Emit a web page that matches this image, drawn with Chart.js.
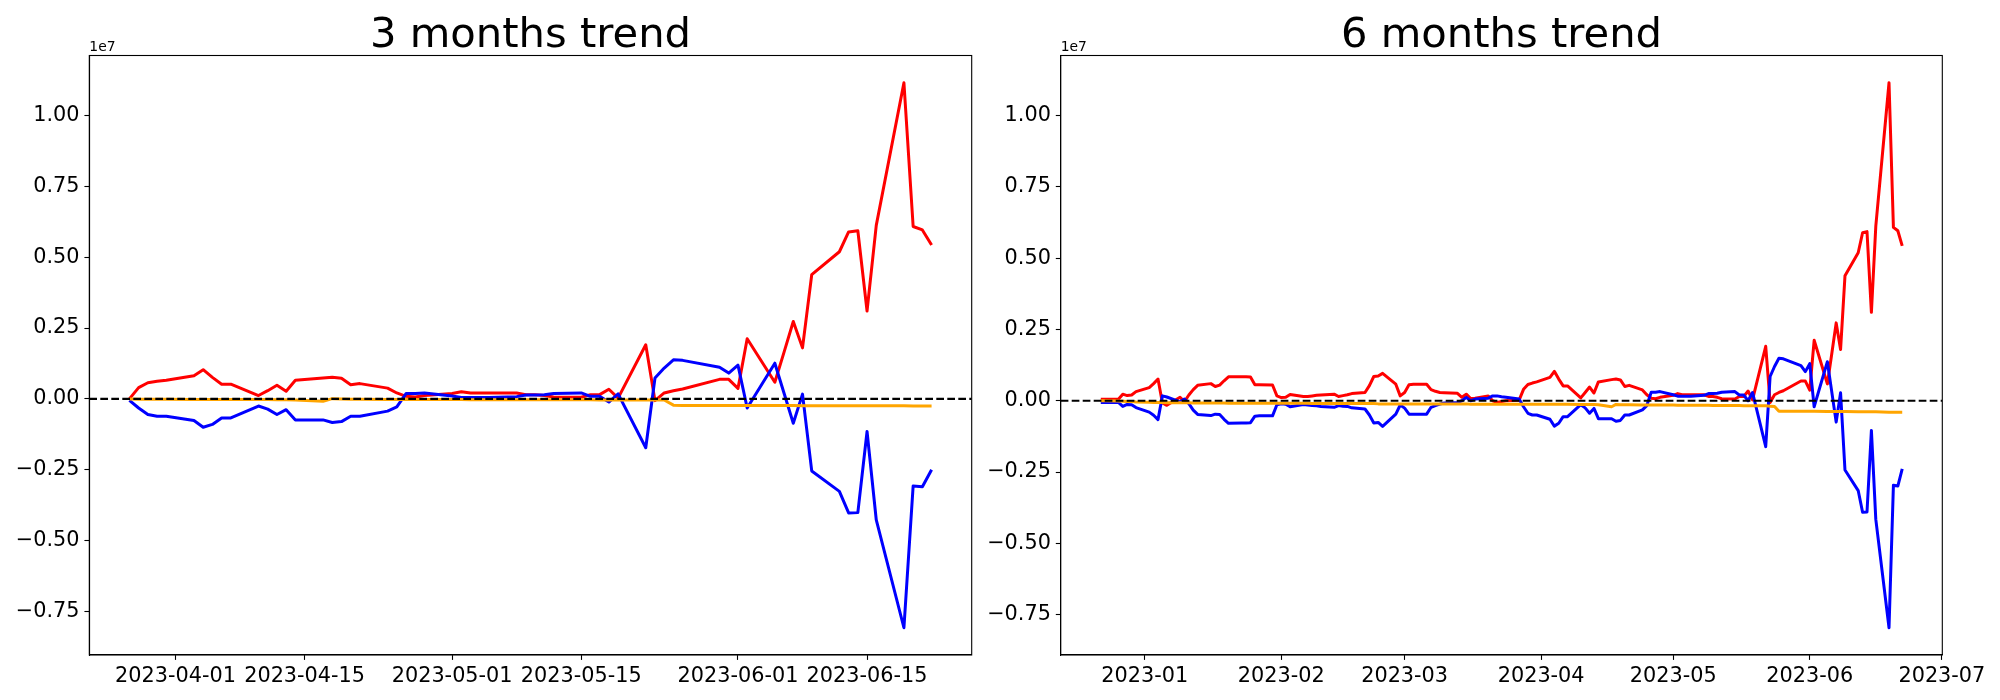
<!DOCTYPE html>
<html>
<head>
<meta charset="utf-8">
<script src="https://cdn.jsdelivr.net/npm/chart.js@4.4.0/dist/chart.umd.min.js"></script>
<style>
  html, body { margin: 0; padding: 0; background: #fff; }
  #wrap { position: relative; width: 2000px; height: 700px; }
  canvas { position: absolute; top: 0; }
</style>
</head>
<body>
<div id="wrap">
  <canvas id="chart3m" width="1000" height="700" style="left:0"></canvas>
  <canvas id="chart6m" width="1050" height="700" style="left:950px"></canvas>
</div>
<script>
// values below are in units of 100 000 (the axis shows them as x1e7)
const UNIT = 1e5;

// ---- 3 months ----
const leftDates = [
  '2023-03-27','2023-03-28','2023-03-29','2023-03-30','2023-03-31',
  '2023-04-03','2023-04-04','2023-04-05','2023-04-06','2023-04-07',
  '2023-04-10','2023-04-11','2023-04-12','2023-04-13','2023-04-14',
  '2023-04-17','2023-04-18','2023-04-19','2023-04-20','2023-04-21',
  '2023-04-24','2023-04-25','2023-04-26','2023-04-27','2023-04-28',
  '2023-05-01','2023-05-02','2023-05-03','2023-05-04','2023-05-05',
  '2023-05-08','2023-05-09','2023-05-10','2023-05-11','2023-05-12',
  '2023-05-15','2023-05-16','2023-05-17','2023-05-18','2023-05-19',
  '2023-05-22','2023-05-23','2023-05-24','2023-05-25','2023-05-26',
  '2023-05-30','2023-05-31','2023-06-01','2023-06-02',
  '2023-06-05','2023-06-06','2023-06-07','2023-06-08','2023-06-09',
  '2023-06-12','2023-06-13','2023-06-14','2023-06-15','2023-06-16',
  '2023-06-19','2023-06-20','2023-06-21','2023-06-22'
];
const leftRed = [
  0, 4.0, 5.7, 6.2, 6.6,
  8.2, 10.3, 7.6, 5.2, 5.2,
  1.2, 2.9, 4.8, 2.7, 6.6,
  7.4, 7.6, 7.3, 5.0, 5.4,
  3.8, 2.1, 0.9, 0.7, 1.2,
  1.9, 2.5, 2.1, 2.1, 2.1,
  2.1, 1.5, 1.5, 1.2, 0.7,
  0.6, 1.5, 1.5, 3.4, 0.3,
  19.1, -0.6, 2.1, 2.9, 3.5,
  6.9, 6.9, 3.7, 21.2,
  5.9, 16.5, 27.3, 18.0, 43.8,
  51.9, 58.9, 59.3, 31.0, 61.2,
  111.5, 60.8, 59.6, 54.3
];
const leftBlue = [
  -0.5, -3.2, -5.5, -6.1, -6.1,
  -7.6, -10.0, -9.0, -6.7, -6.7,
  -2.5, -3.6, -5.5, -3.8, -7.4,
  -7.4, -8.3, -8.0, -6.1, -6.1,
  -4.3, -2.8, 1.9, 1.9, 2.1,
  1.0, 0.5, 0.5, 0.5, 0.5,
  0.8, 1.4, 1.4, 1.5, 1.9,
  2.1, 0.9, 0.9, -1.1, 1.8,
  -17.2, 7.4, 10.9, 13.8, 13.6,
  11.2, 9.1, 11.9, -3.2,
  12.6, 2.0, -8.6, 1.7, -25.4,
  -32.6, -40.2, -40.1, -11.5, -42.7,
  -80.7, -30.7, -31.0, -25.0
];
const leftOrange = [
  0, -0.1, -0.1, -0.1, -0.1,
  -0.2, -0.2, -0.2, -0.2, -0.2,
  -0.2, -0.2, -0.3, -0.3, -0.35,
  -0.8, 0.1, 0.0, -0.1, -0.1,
  -0.2, -0.2, -0.2, -0.2, -0.2,
  -0.2, -0.2, -0.3, -0.3, -0.3,
  -0.3, -0.3, -0.3, -0.3, -0.3,
  -0.3, -0.3, -0.4, -0.4, -0.4,
  -0.4, -0.4, -0.4, -2.2, -2.3,
  -2.3, -2.3, -2.3, -2.3,
  -2.3, -2.3, -2.3, -2.4, -2.4,
  -2.4, -2.4, -2.4, -2.4, -2.4,
  -2.4, -2.5, -2.5, -2.5
];
const leftTicks = ['2023-04-01','2023-04-15','2023-05-01','2023-05-15','2023-06-01','2023-06-15'];
const leftTickLabels = ['2023-04-01','2023-04-15','2023-05-01','2023-05-15','2023-06-01','2023-06-15'];

// ---- 6 months ----
const rightDates = [
  '2022-12-22','2022-12-23','2022-12-26','2022-12-27','2022-12-28','2022-12-29','2022-12-30',
  '2023-01-02','2023-01-03','2023-01-04','2023-01-05','2023-01-06',
  '2023-01-09','2023-01-10','2023-01-11','2023-01-12','2023-01-13',
  '2023-01-16','2023-01-17','2023-01-18','2023-01-19','2023-01-20',
  '2023-01-23','2023-01-24','2023-01-25','2023-01-26','2023-01-27',
  '2023-01-30','2023-01-31','2023-02-01','2023-02-02','2023-02-03',
  '2023-02-06','2023-02-07','2023-02-08','2023-02-09','2023-02-10',
  '2023-02-13','2023-02-14','2023-02-15','2023-02-16','2023-02-17',
  '2023-02-20','2023-02-21','2023-02-22','2023-02-23','2023-02-24',
  '2023-02-27','2023-02-28','2023-03-01','2023-03-02','2023-03-03',
  '2023-03-06','2023-03-07','2023-03-08','2023-03-09','2023-03-10',
  '2023-03-13','2023-03-14','2023-03-15','2023-03-16','2023-03-17',
  '2023-03-20','2023-03-21','2023-03-22','2023-03-23','2023-03-24'
].concat(leftDates);
const rightRed = [
  0.5, 0.5, 0.5, 2.3, 1.8, 2.0, 3.2,
  4.6, 6.0, 7.6, -0.8, -1.6,
  1.2, -0.3, 2.0, 3.9, 5.4,
  6.0, 5.0, 5.5, 7.0, 8.4,
  8.4, 8.4, 8.3, 5.6, 5.6,
  5.5, 1.7, 1.1, 1.2, 2.2,
  1.5, 1.5, 1.7, 1.9, 2.0,
  2.3, 1.5, 1.8, 2.1, 2.5,
  2.9, 5.3, 8.5, 8.7, 9.6,
  5.8, 1.7, 2.9, 5.6, 5.8,
  5.8, 3.9, 3.3, 2.9, 2.8,
  2.6, 1.2, 2.3, 0.8, 0.9,
  1.7, 0.0, -0.6, -0.3, 0.0,
  0.2, 4.0, 5.7, 6.2, 6.6,
  8.2, 10.3, 7.6, 5.2, 5.2,
  1.0, 2.9, 4.8, 2.7, 6.6,
  7.4, 7.6, 7.3, 5.0, 5.4,
  3.8, 2.1, 0.9, 0.7, 1.2,
  1.9, 2.5, 2.1, 2.1, 2.1,
  2.1, 1.5, 1.5, 1.2, 0.7,
  0.6, 1.5, 1.5, 3.4, 0.3,
  19.1, -0.6, 2.1, 2.9, 3.5,
  6.9, 6.9, 3.7, 21.2,
  5.9, 16.5, 27.3, 18.0, 43.8,
  51.9, 58.9, 59.3, 31.0, 61.2,
  111.5, 60.8, 59.6, 54.3
];
const rightBlue = [
  -0.6, -0.6, -0.6, -2.0, -1.3, -1.4, -2.4,
  -4.0, -5.1, -6.6, 1.7, 1.3,
  -0.4, 0.6, -1.0, -3.3, -4.8,
  -5.2, -4.7, -4.8, -6.5, -7.9,
  -7.8, -7.8, -7.7, -5.4, -5.3,
  -5.3, -1.4, -1.1, -1.2, -2.1,
  -1.3, -1.5, -1.7, -1.8, -2.0,
  -2.3, -1.7, -1.9, -2.0, -2.5,
  -2.9, -5.0, -7.8, -7.6, -9.0,
  -4.7, -1.5, -2.6, -4.7, -4.7,
  -4.7, -2.3, -1.7, -1.2, -0.8,
  -0.6, 0.0, 1.2, 0.0, 0.6,
  0.9, 1.7, 1.7, 1.4, 1.2,
  0.6, -2.1, -4.4, -5.0, -5.0,
  -6.5, -8.9, -7.9, -5.6, -5.6,
  -1.4, -2.5, -4.4, -2.7, -6.3,
  -6.3, -7.2, -6.9, -5.0, -5.0,
  -3.2, -1.7, 3.0, 3.0, 3.2,
  2.1, 1.6, 1.6, 1.6, 1.6,
  1.9, 2.5, 2.5, 2.6, 3.0,
  3.2, 2.0, 2.0, 0.0, 2.9,
  -16.1, 8.5, 12.0, 14.9, 14.7,
  12.3, 10.2, 13.0, -2.1,
  13.7, 3.1, -7.5, 2.8, -24.3,
  -31.5, -39.1, -39.0, -10.4, -41.6,
  -79.6, -29.6, -29.9, -23.9
];
const rightOrange = [
  0.0, 0.0, -0.1, -0.2, -0.3, -0.3, -0.4,
  -0.5, -0.6, -0.6, -0.6, -0.7,
  -0.7, -0.7, -0.7, -0.8, -0.8,
  -0.8, -0.8, -0.8, -0.8, -0.9,
  -0.9, -0.9, -0.9, -0.9, -0.9,
  -0.9, -0.9, -0.9, -0.9, -0.9,
  -0.9, -0.9, -1.0, -1.0, -1.0,
  -1.0, -1.0, -1.0, -1.0, -1.0,
  -1.0, -1.0, -1.0, -1.1, -1.1,
  -1.1, -1.1, -1.1, -1.1, -1.1,
  -1.1, -1.1, -1.1, -1.1, -1.1,
  -1.1, -1.1, -1.1, -1.2, -1.2,
  -1.2, -1.2, -1.2, -1.2, -1.2,
  -1.2, -1.2, -1.2, -1.2, -1.2,
  -1.2, -1.2, -1.2, -1.2, -1.2,
  -1.3, -1.3, -1.3, -1.3, -1.4,
  -2.1, -1.3, -1.4, -1.4, -1.4,
  -1.5, -1.5, -1.5, -1.5, -1.5,
  -1.5, -1.6, -1.6, -1.6, -1.6,
  -1.6, -1.6, -1.7, -1.7, -1.7,
  -1.7, -1.7, -1.8, -1.8, -1.8,
  -1.8, -1.9, -2.0, -3.7, -3.7,
  -3.7, -3.7, -3.7, -3.7,
  -3.8, -3.8, -3.8, -3.8, -3.8,
  -3.9, -3.9, -3.9, -3.9, -3.9,
  -4.0, -4.0, -4.0, -4.0
];
const rightTicks = ['2023-01-01','2023-02-01','2023-03-01','2023-04-01','2023-05-01','2023-06-01','2023-07-01'];
const rightTickLabels = ['2023-01','2023-02','2023-03','2023-04','2023-05','2023-06','2023-07'];

// y axis ticks (shown divided by 1e7)
const yTicks = [-7.5e6, -5e6, -2.5e6, 0, 2.5e6, 5e6, 7.5e6, 1e7];

const FONT = 'DejaVu Sans';
const dayNum = s => Date.parse(s + 'T00:00:00Z') / 864e5;
const toPoints = (dates, vals) => dates.map((d, i) => ({ x: dayNum(d), y: vals[i] * UNIT }));

// matplotlib-like 5% margins
function padRange(vals) {
  const lo = Math.min(...vals), hi = Math.max(...vals);
  const m = (hi - lo) * 0.05;
  return [lo - m, hi + m];
}

// box around the axes, title and the "1e7" offset text
const framePlugin = {
  id: 'frame',
  afterDraw(chart, args, opts) {
    const { ctx, chartArea: a } = chart;
    ctx.save();
    ctx.strokeStyle = '#000';
    ctx.lineWidth = 1.1;
    ctx.strokeRect(a.left, a.top, a.right - a.left, a.bottom - a.top);
    ctx.fillStyle = '#000';
    ctx.textBaseline = 'alphabetic';
    ctx.textAlign = 'center';
    ctx.font = '41.7px "' + FONT + '"';
    ctx.fillText(opts.title, (a.left + a.right) / 2, a.top - 8.3);
    ctx.textAlign = 'left';
    ctx.font = '13.9px "' + FONT + '"';
    ctx.fillText('1e7', a.left, a.top - 5);
    ctx.restore();
  }
};

function lineSet(data, color, order) {
  return {
    data: data, borderColor: color, borderWidth: 3, pointRadius: 0,
    tension: 0, fill: false, borderJoinStyle: 'round', order: order
  };
}

function makeChart(id, c) {
  const xs = c.dates.map(dayNum);
  const [xmin, xmax] = padRange(xs);
  const [ymin, ymax] = padRange([...c.red, ...c.blue, ...c.orange].map(v => v * UNIT));

  const tickFont = { family: FONT, size: 20.8 };
  return new Chart(document.getElementById(id), {
    type: 'line',
    data: {
      datasets: [
        lineSet(toPoints(c.dates, c.red), '#ff0000', 3),
        lineSet(toPoints(c.dates, c.blue), '#0000ff', 2),
        lineSet(toPoints(c.dates, c.orange), '#ffa500', 1),
        {
          data: [{ x: xmin, y: 0 }, { x: xmax, y: 0 }],
          borderColor: '#000', borderWidth: 2.2, borderDash: [7.7, 3.3],
          pointRadius: 0, order: 0
        }
      ]
    },
    options: {
      responsive: false,
      animation: false,
      layout: { padding: { left: 0, right: c.padRight, top: 55.5, bottom: 0 } },
      plugins: {
        legend: { display: false },
        tooltip: { enabled: false },
        frame: { title: c.title }
      },
      scales: {
        x: {
          type: 'linear', min: xmin, max: xmax,
          afterBuildTicks: s => { s.ticks = c.ticks.map(t => ({ value: dayNum(t) })); },
          afterFit: s => { s.height = 45; },
          ticks: {
            callback: (v, i) => c.tickLabels[i],
            autoSkip: false, maxRotation: 0, minRotation: 0,
            padding: 4, color: '#000', font: tickFont
          },
          grid: { drawOnChartArea: false, drawTicks: true, tickLength: 4.9, tickWidth: 1.1, tickColor: '#000' },
          border: { display: true, color: '#000', width: 1.1 }
        },
        y: {
          type: 'linear', min: ymin, max: ymax,
          afterBuildTicks: s => { s.ticks = yTicks.map(v => ({ value: v })); },
          afterFit: s => { s.width = c.yWidth; },
          ticks: {
            callback: v => (v / 1e7).toFixed(2).replace('-', '\u2212'),
            padding: 4.9, color: '#000', font: tickFont
          },
          grid: { drawOnChartArea: false, drawTicks: true, tickLength: 4.9, tickWidth: 1.1, tickColor: '#000' },
          border: { display: true, color: '#000', width: 1.1 }
        }
      }
    },
    plugins: [framePlugin]
  });
}

makeChart('chart3m', {
  title: '3 months trend', dates: leftDates, red: leftRed, blue: leftBlue, orange: leftOrange,
  ticks: leftTicks, tickLabels: leftTickLabels, yWidth: 89.3, padRight: 28.3
});
makeChart('chart6m', {
  title: '6 months trend', dates: rightDates, red: rightRed, blue: rightBlue, orange: rightOrange,
  ticks: rightTicks, tickLabels: rightTickLabels, yWidth: 110.7, padRight: 57.7
});
</script>
</body>
</html>
